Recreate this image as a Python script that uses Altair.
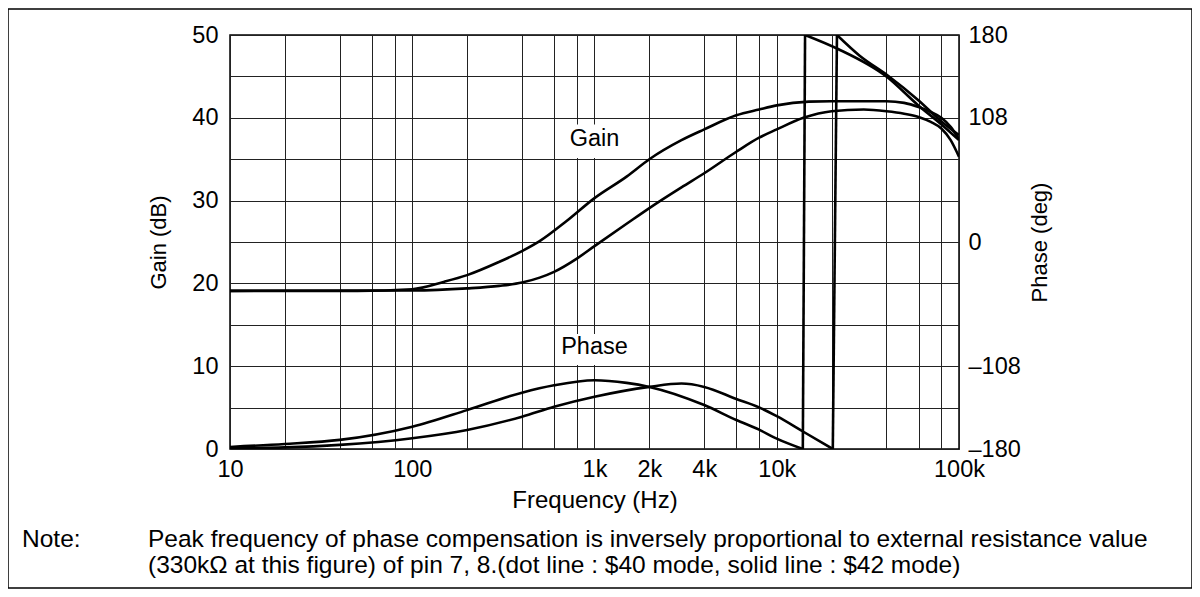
import altair as alt
import pandas as pd

# ---------------- data ----------------
gain_a_freq = [10, 50, 100, 150, 200, 300, 400, 500, 700, 1000, 1500, 2000, 3000, 4000,
               6000, 8000, 10000, 15000, 20000, 30000, 40000, 50000, 60000, 70000, 80000,
               90000, 100000]
gain_a_db = [19.1, 19.1, 19.3, 20.2, 21.0, 22.6, 23.9, 25.1, 27.5, 30.3, 32.9, 35.0, 37.3,
             38.6, 40.3, 41.0, 41.5, 41.95, 42.0, 42.0, 42.0, 41.8, 41.3, 40.7, 40.0, 38.9,
             37.4]

gain_b_freq = [10, 100, 200, 300, 400, 500, 600, 800, 1000, 1500, 2000, 3000, 4000, 6000,
               8000, 10000, 14000, 20000, 30000, 40000, 50000, 60000, 70000, 80000, 90000,
               100000]
gain_b_db = [19.1, 19.15, 19.4, 19.7, 20.1, 20.7, 21.4, 23.0, 24.5, 27.2, 29.1, 31.6, 33.3,
             35.9, 37.6, 38.6, 40.0, 40.8, 41.0, 40.8, 40.5, 40.1, 39.5, 38.7, 37.3, 35.3]

# phase curve A: low branch ends at -180, then wraps to +180
phase_a_low_freq = [10, 20, 40, 100, 200, 400, 600, 1000, 1500, 2000, 4000, 6000, 8000,
                    10000, 13900]
phase_a_low_deg = [-178.2, -175.7, -172.1, -160.6, -146.2, -131.0, -124.6, -120.2, -122.5,
                   -126.0, -141.8, -154.8, -163.2, -171.0, -180.0]
phase_a_high_freq = [14300, 21700, 40300, 59600, 80700, 100000]
phase_a_high_deg = [180.0, 167.8, 143.5, 119.0, 101.8, 88.6]

# phase curve B
phase_b_low_freq = [10, 20, 40, 100, 200, 400, 600, 1000, 2000, 3000, 4000, 6000, 8000,
                    10000, 14000, 20300]
phase_b_low_deg = [-179.3, -178.6, -176.4, -170.6, -163.4, -151.9, -143.3, -134.6, -126.0,
                   -123.1, -126.0, -136.5, -143.8, -151.5, -165.0, -180.0]
phase_b_high_freq = [21400, 28500, 40300, 59600, 80700, 100000]
phase_b_high_deg = [180.0, 162.0, 145.2, 123.5, 104.4, 93.0]

grid_freq = [10, 20, 40, 60, 80, 100, 200, 400, 600, 800, 1000, 2000, 4000, 6000, 8000,
             10000, 20000, 40000, 60000, 80000, 100000]
label_freq = [10, 100, 1000, 2000, 4000, 10000, 100000]
gain_ticks = [0, 5, 10, 15, 20, 25, 30, 35, 40, 45, 50]
phase_ticks = [-180, -108, 0, 108, 180]

label_text = ["Gain", "Phase"]
label_freq_pos = [1000, 1000]
label_db_pos = [37.4, 12.3]
box_f1 = [625, 625]
box_f2 = [1930, 1930]
box_v1 = [35.15, 10.15]
box_v2 = [39.2, 13.9]

note_head = "Note:"
note_line1 = "Peak frequency of phase compensation is inversely proportional to external resistance value"
note_line2 = "(330k\u03a9 at this figure) of pin 7, 8.(dot line : $40 mode, solid line : $42 mode)"

FONT = "Liberation Sans"
FS_TICK = 23.5
FS_LABEL = 23.5
FS_NOTE = 24.5
W, H = 729, 414

# ---------------- tables ----------------
gain_df = pd.concat([
    pd.DataFrame({"f": gain_a_freq, "v": gain_a_db, "s": "a"}),
    pd.DataFrame({"f": gain_b_freq, "v": gain_b_db, "s": "b"}),
])
phase_df = pd.concat([
    pd.DataFrame({"f": phase_a_low_freq, "v": phase_a_low_deg, "s": "a_low"}),
    pd.DataFrame({"f": phase_a_high_freq, "v": phase_a_high_deg, "s": "a_high"}),
    pd.DataFrame({"f": phase_b_low_freq, "v": phase_b_low_deg, "s": "b_low"}),
    pd.DataFrame({"f": phase_b_high_freq, "v": phase_b_high_deg, "s": "b_high"}),
])
# wrap-around jumps: last point of low branch to first point of high branch
jump_df = pd.concat([
    pd.DataFrame({"f": [phase_a_low_freq[-1], phase_a_high_freq[0]],
                  "v": [phase_a_low_deg[-1], phase_a_high_deg[0]], "s": "a"}),
    pd.DataFrame({"f": [phase_b_low_freq[-1], phase_b_high_freq[0]],
                  "v": [phase_b_low_deg[-1], phase_b_high_deg[0]], "s": "b"}),
])
lab_df = pd.DataFrame({"f": label_freq_pos, "v": label_db_pos, "t": label_text})
box_df = pd.DataFrame({"f1": box_f1, "f2": box_f2, "v1": box_v1, "v2": box_v2})
one = pd.DataFrame({"d": [0]})

x_scale = alt.Scale(type="log", domain=[10, 100000], nice=False)
label_list = ",".join(str(v) for v in label_freq)
x_axis = alt.Axis(
    values=grid_freq,
    labelExpr=f"indexof([{label_list}], datum.value) >= 0 ? (datum.value >= 1000 ? (datum.value/1000) + 'k' : '' + datum.value) : ''",
    grid=True, gridColor="#222", gridWidth=1, ticks=False, domain=False,
    labelFlush=False, labelOverlap=False, labelPadding=8, labelFontSize=FS_TICK,
    title="Frequency (Hz)", titlePadding=8, titleFontSize=24,
)
gain_scale = alt.Scale(domain=[0, 50], nice=False, zero=False)
gain_axis = alt.Axis(
    values=gain_ticks, labelExpr="datum.value % 10 == 0 ? '' + datum.value : ''",
    grid=True, gridColor="#222", gridWidth=1, ticks=False, domain=False,
    labelPadding=12, labelOverlap=False, labelFontSize=FS_TICK,
    title="Gain (dB)", titlePadding=21, titleFontSize=22,
)
phase_scale = alt.Scale(domain=[-180, 180], nice=False, zero=False)
phase_axis = alt.Axis(
    orient="right", values=phase_ticks,
    labelExpr="datum.value < 0 ? '\u2013' + (-datum.value) : '' + datum.value",
    grid=False, ticks=False, domain=False, labelPadding=9, labelOverlap=False,
    labelFontSize=FS_TICK,
    title="Phase (deg)", titleAngle=270, titlePadding=31, titleFontSize=22,
)

X = alt.X("f:Q", scale=x_scale, axis=x_axis)

boxes = alt.Chart(box_df).mark_rect(fill="white").encode(
    x=alt.X("f1:Q", scale=x_scale, axis=x_axis), x2="f2:Q",
    y=alt.Y("v1:Q", scale=gain_scale, axis=gain_axis), y2="v2:Q",
)
gain_lines = alt.Chart(gain_df).mark_line(
    color="black", strokeWidth=2.6, interpolate="monotone", clip=True
).encode(x=X, y=alt.Y("v:Q", scale=gain_scale, axis=gain_axis), detail="s:N")
labels = alt.Chart(lab_df).mark_text(font=FONT, fontSize=FS_LABEL, color="black").encode(
    x=X, y=alt.Y("v:Q", scale=gain_scale, axis=gain_axis), text="t:N"
)
gain_group = alt.layer(boxes, gain_lines, labels)

phase_lines = alt.Chart(phase_df).mark_line(
    color="black", strokeWidth=2.6, interpolate="monotone", clip=True
).encode(x=X, y=alt.Y("v:Q", scale=phase_scale, axis=phase_axis), detail="s:N")
phase_jumps = alt.Chart(jump_df).mark_line(
    color="black", strokeWidth=2.6, interpolate="linear", clip=True
).encode(x=X, y=alt.Y("v:Q", scale=phase_scale, axis=phase_axis), detail="s:N")
phase_group = alt.layer(phase_lines, phase_jumps)

border = alt.Chart(one).mark_rect(fill="transparent", stroke="black", strokeWidth=1.5).encode(
    x=alt.value(-222), x2=alt.value(962), y=alt.value(-26), y2=alt.value(553)
)
txt = dict(font=FONT, fontSize=FS_NOTE, color="black", align="left", baseline="middle")
n0 = alt.Chart(one).mark_text(**txt).encode(x=alt.value(-208), y=alt.value(505), text=alt.value(note_head))
n1 = alt.Chart(one).mark_text(**txt).encode(x=alt.value(-82), y=alt.value(505), text=alt.value(note_line1))
n2 = alt.Chart(one).mark_text(**txt).encode(x=alt.value(-82), y=alt.value(531), text=alt.value(note_line2))

chart = alt.layer(gain_group, phase_group, border, n0, n1, n2).resolve_scale(
    y="independent"
).properties(
    width=W, height=H, autosize="none",
    padding={"left": 222, "top": 27, "right": 233, "bottom": 140},
).configure(font=FONT).configure_view(stroke="black", strokeWidth=1.5).configure_axis(
    labelFont=FONT, labelColor="black",
    titleFont=FONT, titleFontWeight="normal", titleColor="black",
)

chart.save("out.html", embed_options={"renderer": "svg", "actions": False})
